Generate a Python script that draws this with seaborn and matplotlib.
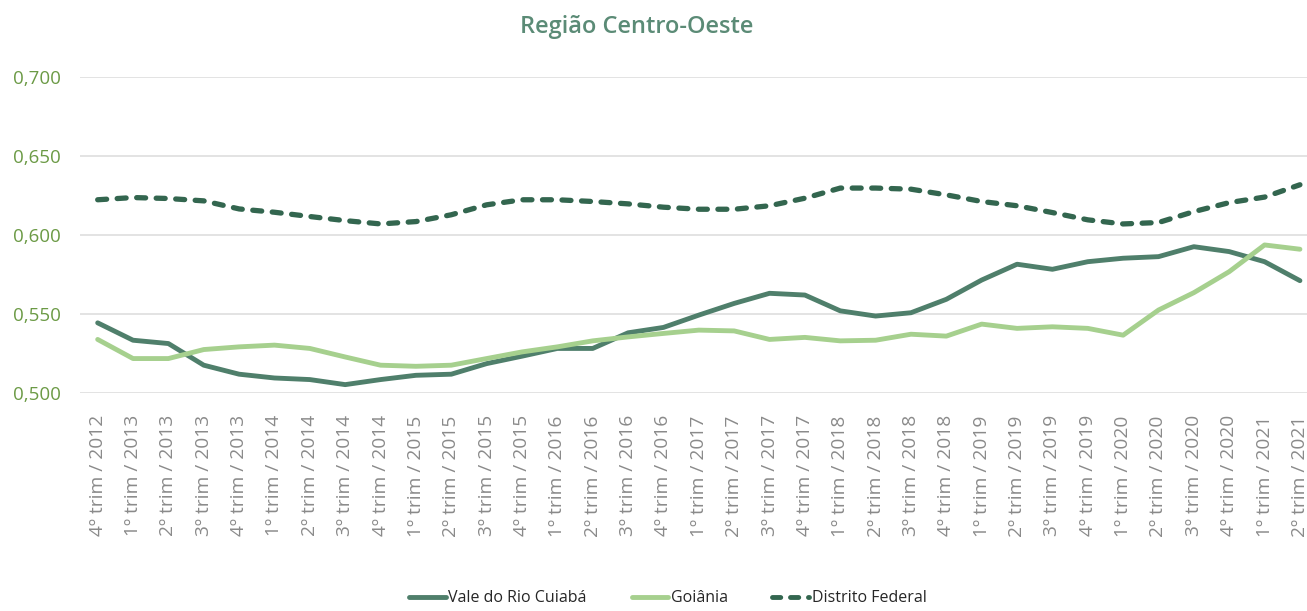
import numpy as np
import pandas as pd
import matplotlib
matplotlib.use("Agg")
import matplotlib.pyplot as plt
import seaborn as sns

# quarters from 4th 2012 to 2nd 2021
periods = ["4º trim / 2012"]
for yr in range(2013, 2021):
    periods += ["%dº trim / %d" % (q, yr) for q in range(1, 5)]
periods += ["1º trim / 2021", "2º trim / 2021"]

vale_cuiaba = [0.5444, 0.5334, 0.5313, 0.5176, 0.5119, 0.5095, 0.5085, 0.5053,
               0.5085, 0.5112, 0.5119, 0.5186, 0.5233, 0.5282, 0.5282, 0.5381,
               0.5415, 0.5493, 0.5567, 0.5631, 0.5620, 0.5520, 0.5487, 0.5508,
               0.5593, 0.5715, 0.5815, 0.5783, 0.5831, 0.5853, 0.5863, 0.5926,
               0.5895, 0.5831, 0.5711]
goiania = [0.5339, 0.5218, 0.5218, 0.5275, 0.5292, 0.5303, 0.5282, 0.5228,
           0.5176, 0.5169, 0.5176, 0.5218, 0.5260, 0.5292, 0.5330, 0.5355,
           0.5377, 0.5398, 0.5393, 0.5339, 0.5352, 0.5330, 0.5334, 0.5372,
           0.5360, 0.5436, 0.5409, 0.5419, 0.5409, 0.5366, 0.5525, 0.5635,
           0.5768, 0.5937, 0.5910]
distrito_federal = [0.6223, 0.6237, 0.6231, 0.6216, 0.6165, 0.6144, 0.6117, 0.6091,
                    0.6070, 0.6085, 0.6128, 0.6191, 0.6223, 0.6223, 0.6212, 0.6197,
                    0.6176, 0.6163, 0.6163, 0.6185, 0.6233, 0.6297, 0.6297, 0.6290,
                    0.6254, 0.6212, 0.6185, 0.6142, 0.6096, 0.6070, 0.6079, 0.6148,
                    0.6205, 0.6240, 0.6318]

series_names = ["Vale do Rio Cuiabá", "Goiânia", "Distrito Federal"]
colors = {"Vale do Rio Cuiabá": "#4f7f6b",
          "Goiânia": "#a6d08e",
          "Distrito Federal": "#33664f"}

df = pd.DataFrame({
    "pos": np.tile(np.arange(len(periods)), 3),
    "valor": vale_cuiaba + goiania + distrito_federal,
    "serie": np.repeat(series_names, len(periods)),
})

sns.set_style("white")
plt.rcParams["font.family"] = ["Open Sans", "DejaVu Sans"]

fig = plt.figure(figsize=(13.07, 6.11), dpi=100)
ax = fig.add_axes([80 / 1307, 218 / 611, 1227 / 1307, 316 / 611])

sns.lineplot(data=df, x="pos", y="valor", hue="serie", style="serie",
             palette=colors,
             dashes={"Vale do Rio Cuiabá": "", "Goiânia": "",
                     "Distrito Federal": (1.7, 2.0)},
             linewidth=3.5, ax=ax, legend=True)

for ln in ax.get_lines():
    ln.set_dash_capstyle("round")
    ln.set_solid_capstyle("round")
ax.get_lines()[2].set_linewidth(3.8)

ax.set_xlim(-0.5, 34.2)
ax.set_ylim(0.5, 0.7)
ax.set_yticks([0.5, 0.55, 0.6, 0.65, 0.7])
ax.set_yticklabels(["0,500", "0,550", "0,600", "0,650", "0,700"],
                   color="#6b9a45", fontsize=13.5)
ax.set_xticks(range(len(periods)))
ax.set_xticklabels(periods, rotation=90, color="#8a8a8a", fontsize=13.8)
ax.tick_params(axis="x", length=0, pad=16)
ax.tick_params(axis="y", length=0, pad=14)
ax.set_xlabel("")
ax.set_ylabel("")
ax.grid(axis="y", color="#dedede", linewidth=1.2)
ax.set_axisbelow(True)
sns.despine(ax=ax, left=True, bottom=True, top=True, right=True)

handles, labels = ax.get_legend_handles_labels()
ax.get_legend().remove()
fig.legend(handles, labels, loc="lower center", ncol=3, frameon=False,
           bbox_to_anchor=(0.511, -0.008), handlelength=2.3,
           columnspacing=2.8, handletextpad=0.15, borderaxespad=0.2,
           prop={"family": ["Open Sans"], "size": 11.5})

fig.suptitle("Região Centro-Oeste", x=0.487, y=0.975, fontsize=17,
             color="#5b8b76", fontweight="semibold")

fig.savefig("out.png", dpi=100)
